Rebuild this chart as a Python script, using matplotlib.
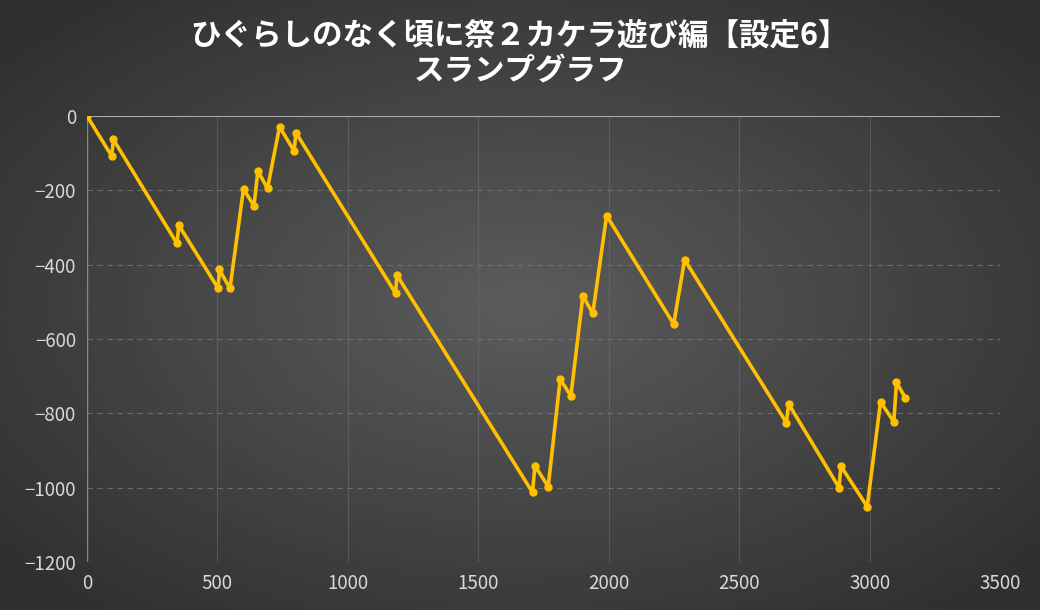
import numpy as np
import matplotlib
matplotlib.use("Agg")
import matplotlib.pyplot as plt

games = [0, 95, 101, 345, 352, 503, 507, 548, 600, 640, 655, 692, 738, 794, 801,
         1183, 1188, 1708, 1717, 1768, 1814, 1855, 1901, 1939, 1992, 2249, 2291,
         2681, 2690, 2883, 2890, 2991, 3042, 3093, 3103, 3137]
diff = [0, -108, -63, -343, -294, -464, -413, -464, -196, -242, -148, -195, -29, -94, -45,
        -477, -428, -1013, -941, -997, -708, -753, -484, -531, -268, -560, -387,
        -825, -775, -1000, -942, -1051, -769, -823, -717, -758]
title = "ひぐらしのなく頃に祭２カケラ遊び編【設定6】\nスランプグラフ"

plt.rcParams["font.family"] = ["Noto Sans CJK JP", "DejaVu Sans"]

fig = plt.figure(figsize=(10.4, 6.1), dpi=100)

# radial gradient background
bg = fig.add_axes([0, 0, 1, 1])
yy, xx = np.mgrid[-1:1:300j, -1:1:500j]
r = np.sqrt(xx ** 2 + yy ** 2)
bg.imshow(0.36 - 0.17 * np.clip(r / 1.3, 0, 1), cmap="gray", vmin=0, vmax=1,
          aspect="auto", extent=[0, 1, 0, 1])
bg.axis("off")

ax = fig.add_axes([87 / 1040, 48 / 610, 913 / 1040, 446 / 610])
ax.patch.set_alpha(0)
ax.plot(games, diff, color="#FFC000", lw=2.6, marker="o", ms=5, zorder=3)
ax.set_xlim(0, 3500)
ax.set_ylim(-1200, 0)
ax.set_xticks(range(0, 3501, 500))
ax.set_yticks(range(-1200, 1, 200))
for s in ax.spines.values():
    s.set_visible(False)
ax.axhline(0, color="#AAAAAA", lw=1.5, zorder=2)
ax.axvline(0, color="#888888", lw=1, zorder=2)
ax.grid(axis="x", color="#777777", lw=0.8, alpha=0.45)
ax.grid(axis="y", color="#777777", lw=0.8, ls=(0, (5, 4)), alpha=0.8)
ax.set_axisbelow(True)
ax.tick_params(colors="#D9D9D9", labelsize=13.5, length=0, pad=8)

fig.text(0.5, 0.912, title, ha="center", va="center", color="white",
         fontsize=22, fontweight="bold", linespacing=1.15)

fig.savefig("out.png", dpi=100)
